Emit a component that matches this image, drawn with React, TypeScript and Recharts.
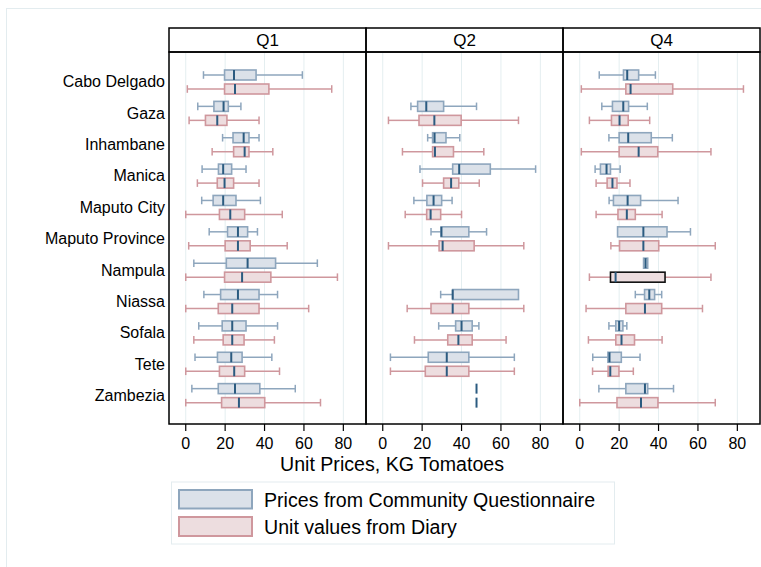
import React from 'react';
import { Bar, BarChart, CartesianGrid, XAxis, YAxis } from 'recharts';

// each entry: [min, q1, median, q3, max], null when the province has no data
type Stats = [number, number, number, number, number] | null;

const provinces = [
  'Cabo Delgado', 'Gaza', 'Inhambane', 'Manica', 'Maputo City', 'Maputo Province',
  'Nampula', 'Niassa', 'Sofala', 'Tete', 'Zambezia',
];
const quarters = ['Q1', 'Q2', 'Q4'];
const xTicks = [0, 20, 40, 60, 80];

const q1Community: Stats[] = [
  [9.0, 19.7, 24.5, 35.7, 59.2],
  [6.1, 14.3, 19.2, 21.6, 28.0],
  [18.7, 24.0, 29.4, 32.1, 37.2],
  [8.3, 16.6, 19.0, 23.3, 30.6],
  [8.1, 13.9, 19.0, 25.5, 37.9],
  [11.9, 21.2, 26.5, 31.4, 36.4],
  [4.1, 20.6, 31.4, 45.6, 66.8],
  [9.2, 17.7, 26.5, 37.2, 46.6],
  [6.6, 18.5, 23.6, 30.6, 46.6],
  [4.7, 16.1, 23.1, 28.6, 43.7],
  [3.1, 16.5, 25.0, 37.6, 55.6],
];
const q1Diary: Stats[] = [
  [0.8, 19.7, 25.0, 42.2, 74.1],
  [1.7, 10.0, 16.0, 20.9, 37.2],
  [13.4, 24.3, 29.9, 32.1, 44.2],
  [5.9, 16.0, 19.7, 24.3, 37.2],
  [0, 17.1, 22.6, 29.9, 49.0],
  [1.5, 20.0, 26.5, 32.7, 51.5],
  [0, 19.7, 28.6, 43.2, 77.0],
  [0, 16.5, 23.6, 37.2, 62.4],
  [4.1, 19.0, 23.6, 29.6, 45.0],
  [0, 17.1, 24.6, 29.9, 47.6],
  [0, 18.2, 27.0, 40.1, 68.4],
];

const q2Community: Stats[] = [
  null,
  [14.3, 17.7, 22.1, 30.9, 47.6],
  [22.8, 25.3, 26.3, 32.1, 39.1],
  [18.9, 35.5, 38.8, 54.6, 77.6],
  [15.8, 22.4, 25.8, 29.9, 35.2],
  [24.5, 29.6, 29.8, 43.7, 52.7],
  null,
  [29.4, 35.5, 35.5, 68.9, 68.9],
  [28.4, 37.0, 40.0, 45.4, 48.8],
  [3.9, 23.1, 32.5, 43.7, 66.8],
  [47.6, 47.6, 47.6, 47.6, 47.6],
];
const q2Diary: Stats[] = [
  null,
  [2.9, 18.4, 26.2, 39.8, 68.9],
  [10.0, 25.3, 26.5, 35.9, 51.3],
  [20.2, 30.9, 34.7, 38.6, 49.0],
  [11.4, 22.3, 24.3, 29.4, 40.0],
  [2.9, 28.6, 30.4, 46.4, 71.6],
  null,
  [12.4, 24.5, 35.5, 43.7, 71.6],
  [16.1, 33.0, 38.4, 45.4, 62.6],
  [3.9, 21.6, 32.5, 43.7, 66.8],
  [47.6, 47.6, 47.6, 47.6, 47.6],
];

const q4Community: Stats[] = [
  [9.9, 22.2, 24.1, 29.9, 38.4],
  [11.2, 16.6, 22.1, 24.8, 34.3],
  [14.8, 20.0, 24.6, 36.3, 47.0],
  [7.8, 10.5, 13.6, 15.6, 20.5],
  [14.9, 17.1, 24.3, 30.9, 49.9],
  [19.2, 19.2, 32.3, 44.3, 56.2],
  [32.4, 32.4, 33.4, 34.5, 34.5],
  [28.2, 32.9, 35.3, 38.0, 41.6],
  [14.8, 18.3, 20.0, 21.9, 23.9],
  [6.6, 14.3, 15.1, 21.1, 30.6],
  [9.7, 23.4, 33.1, 34.5, 47.6],
];
const q4Diary: Stats[] = [
  [0.8, 23.4, 25.8, 47.2, 83.1],
  [4.9, 16.1, 20.2, 24.6, 35.5],
  [0.8, 20.0, 29.9, 39.6, 66.6],
  [8.3, 13.9, 16.6, 18.9, 25.5],
  [8.3, 19.4, 23.9, 28.2, 41.8],
  [15.8, 20.2, 32.3, 40.1, 68.8],
  [4.9, 15.6, 18.2, 43.3, 66.6],
  [3.2, 23.4, 33.1, 41.6, 62.3],
  [4.4, 18.3, 21.2, 27.8, 41.8],
  [6.5, 14.4, 15.5, 19.9, 27.2],
  [0, 18.9, 31.1, 39.7, 68.8],
];

const communityByQuarter = [q1Community, q2Community, q4Community];
const diaryByQuarter = [q1Diary, q2Diary, q4Diary];

const FONT = '"Liberation Sans", Arial, sans-serif';
const COMM_FILL = '#dbe1e9';
const COMM_STROKE = '#8ea6bd';
const DIARY_FILL = '#eddddf';
const DIARY_STROKE = '#cf979d';
const MEDIAN = '#2b5b80';
const GRID = '#e4eef0';

// the one box Stata drew with a black outline
const darkOutline = { quarter: 'Q4', province: 'Nampula' };

const PLOT_TOP = 52;
const PLOT_BOTTOM = 424;
const PANEL_W = 197;
const panelLefts = [169, 366, 563];
const CHART_H = 462;

const buildRows = (qi: number) =>
  provinces.map((province, i) => {
    const c = communityByQuarter[qi][i];
    const d = diaryByQuarter[qi][i];
    return {
      province,
      comm: c ? [c[0], c[4]] : null,
      commStats: c,
      diary: d ? [d[0], d[4]] : null,
      diaryStats: d,
    };
  });

function BoxShape(props: any) {
  const { x, y, width, height, stats, fill, stroke, boxStroke } = props;
  if (!stats || x == null || Number.isNaN(x)) return null;
  const [lo, q1, med, q3, hi] = stats;
  // min and max come from the bar's scaled range; the rest sit linearly between them
  const px = (v: number) => (hi > lo ? x + ((v - lo) / (hi - lo)) * width : x);
  const cy = y + height / 2;
  const cap = height * 0.38;
  return (
    <g>
      {q1 > lo && (
        <>
          <line x1={px(lo)} x2={px(q1)} y1={cy} y2={cy} stroke={stroke} strokeWidth={1.5} />
          <line x1={px(lo)} x2={px(lo)} y1={cy - cap} y2={cy + cap} stroke={stroke} strokeWidth={1.5} />
        </>
      )}
      {hi > q3 && (
        <>
          <line x1={px(q3)} x2={px(hi)} y1={cy} y2={cy} stroke={stroke} strokeWidth={1.5} />
          <line x1={px(hi)} x2={px(hi)} y1={cy - cap} y2={cy + cap} stroke={stroke} strokeWidth={1.5} />
        </>
      )}
      <rect
        x={px(q1)}
        y={y}
        width={Math.max(px(q3) - px(q1), 0)}
        height={height}
        fill={fill}
        stroke={boxStroke || stroke}
        strokeWidth={1.6}
      />
      <line x1={px(med)} x2={px(med)} y1={y} y2={y + height} stroke={MEDIAN} strokeWidth={2} />
    </g>
  );
}

function Panel({ qi }: { qi: number }) {
  const first = qi === 0;
  const quarter = quarters[qi];
  const rows = buildRows(qi);
  const left = first ? 0 : panelLefts[qi] - 4;
  const width = first ? panelLefts[0] + PANEL_W + 4 : PANEL_W + 8;
  return (
    <div style={{ position: 'absolute', left, top: 0 }}>
      <BarChart
        width={width}
        height={CHART_H}
        data={rows}
        layout="vertical"
        barSize={10}
        barGap={4}
        margin={{ top: PLOT_TOP, bottom: CHART_H - PLOT_BOTTOM - 30, left: first ? 0 : 4, right: 4 }}
      >
        <CartesianGrid horizontal={false} stroke={GRID} strokeWidth={1} />
        <XAxis
          type="number"
          domain={[-8.5, 91.5]}
          ticks={xTicks}
          allowDataOverflow
          height={30}
          axisLine={false}
          tickSize={7}
          tickMargin={7}
          tickLine={{ stroke: '#000', strokeWidth: 1.2 }}
          tick={{ fontSize: 16, fill: '#000', fontFamily: FONT }}
        />
        <YAxis
          type="category"
          dataKey="province"
          hide={!first}
          width={first ? panelLefts[0] : 0}
          axisLine={false}
          tickLine={false}
          tickSize={0}
          tickMargin={4}
          interval={0}
          padding={{ top: 14, bottom: 13 }}
          tick={{ fontSize: 16, fill: '#000', fontFamily: FONT }}
        />
        <Bar
          dataKey="comm"
          isAnimationActive={false}
          shape={(p: any) => (
            <BoxShape {...p} stats={p.payload.commStats} fill={COMM_FILL} stroke={COMM_STROKE} />
          )}
        />
        <Bar
          dataKey="diary"
          isAnimationActive={false}
          shape={(p: any) => (
            <BoxShape
              {...p}
              stats={p.payload.diaryStats}
              fill={DIARY_FILL}
              stroke={DIARY_STROKE}
              boxStroke={
                quarter === darkOutline.quarter && p.payload.province === darkOutline.province
                  ? '#111'
                  : undefined
              }
            />
          )}
        />
      </BarChart>
    </div>
  );
}

export default function App() {
  return (
    <div
      style={{
        position: 'absolute',
        left: 0,
        top: 0,
        width: 761,
        height: 567,
        background: '#fff',
        overflow: 'hidden',
        fontFamily: FONT,
      }}
    >
      {quarters.map((q, qi) => (
        <Panel key={q} qi={qi} />
      ))}
      <svg
        width={761}
        height={567}
        style={{ position: 'absolute', left: 0, top: 0, pointerEvents: 'none' }}
      >
        <rect x={6.5} y={8.5} width={800} height={600} fill="none" stroke="#e3ecef" />
        {quarters.map((q, qi) => (
          <g key={q}>
            <rect x={panelLefts[qi]} y={28} width={PANEL_W} height={PLOT_TOP - 28} fill="none" stroke="#000" strokeWidth={1.5} />
            <text
              x={panelLefts[qi] + PANEL_W / 2}
              y={46}
              textAnchor="middle"
              fontSize={17}
              fontFamily={FONT}
              fill="#000"
            >
              {q}
            </text>
            <rect
              x={panelLefts[qi]}
              y={PLOT_TOP}
              width={PANEL_W}
              height={PLOT_BOTTOM - PLOT_TOP}
              fill="none"
              stroke="#000"
              strokeWidth={1.5}
            />
          </g>
        ))}
        <text x={392} y={471} textAnchor="middle" fontSize={19.6} fontFamily={FONT} fill="#000">
          Unit Prices, KG Tomatoes
        </text>
        <rect x={171.5} y={482} width={443} height={62} fill="none" stroke="#e3ecef" />
        <rect x={179} y={490} width={73} height={18.5} fill={COMM_FILL} stroke={COMM_STROKE} strokeWidth={2} />
        <rect x={179} y={517} width={73} height={19} fill={DIARY_FILL} stroke={DIARY_STROKE} strokeWidth={2} />
        <text x={264} y={506.5} fontSize={19.6} fontFamily={FONT} fill="#000">
          Prices from Community Questionnaire
        </text>
        <text x={264} y={533.5} fontSize={19.6} fontFamily={FONT} fill="#000">
          Unit values from Diary
        </text>
      </svg>
    </div>
  );
}
